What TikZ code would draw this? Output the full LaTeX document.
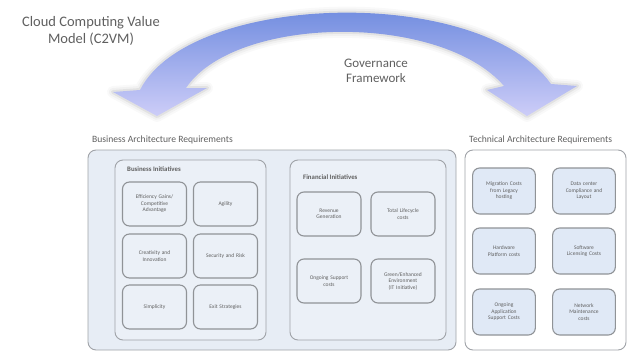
\documentclass[tikz,border=0pt]{standalone}
\usepackage{fontspec}
\setmainfont{Carlito}
\definecolor{panelfill}{RGB}{231,237,245}
\definecolor{groupfill}{RGB}{235,240,247}
\definecolor{techfill}{RGB}{224,233,246}
\definecolor{edgegray}{RGB}{160,163,168}
\definecolor{textgray}{RGB}{95,95,95}
\definecolor{arrowtop}{RGB}{92,126,218}
\definecolor{arrowmid}{RGB}{150,165,235}
\definecolor{arrowbot}{RGB}{205,205,248}
\begin{document}
\begin{tikzpicture}[x=1pt,y=-1pt,
  frame/.style={draw=edgegray, line width=0.9pt, rounded corners=8pt},
  outerbox/.style={frame, fill=panelfill},
  groupbox/.style={frame, fill=groupfill},
  cell/.style={draw=edgegray!90!black, line width=1.1pt, rounded corners=7pt, fill=groupfill,
    minimum width=64pt, minimum height=44pt, align=center, font=\fontsize{5.5}{6.5}\selectfont, text=textgray, text width=56pt},
  techcell/.style={cell, fill=techfill, minimum width=62pt, minimum height=46pt},
  caption/.style={font=\fontsize{9.6}{11}\selectfont, text=textgray, anchor=west, inner sep=0pt},
  grouplabel/.style={caption, font=\fontsize{6.8}{8}\bfseries\selectfont},
  title/.style={font=\fontsize{14.5}{16.5}\selectfont, text=textgray, align=center}
]
\useasboundingbox (0,0) rectangle (634,353);

% curved two-headed arrow with a soft shadow
\def\arrowpath{(113,92) -- (157,116) -- (207,88) -- (186,88)
  .. controls (235,15) and (440,12) .. (504,86)
  -- (487,90) -- (527,116) -- (577,86) -- (551,84)
  .. controls (480,-16) and (190,-8) .. (140,90) -- cycle}
\foreach \w/\o in {12/0.04,8/0.06,4/0.1}{
  \draw[line width=\w pt, gray!80!black, opacity=\o, line join=round] \arrowpath;
}
\shade[top color=arrowtop, middle color=arrowmid, bottom color=arrowbot] \arrowpath;

\node[title] (c2vm) at (91,31) {Cloud Computing Value\\Model (C2VM)};
\node[title, font=\fontsize{13}{15.5}\selectfont] (gov) at (376,71) {Governance\\Framework};

% business architecture
\node[caption] (barlbl) at (92,140) {Business Architecture Requirements};
\draw[outerbox] (88,150) rectangle (456,350);
\draw[groupbox] (115,160) rectangle (266,340);
\node[grouplabel] (bilbl) at (127,169) {Business Initiatives};
\node[cell] (b1) at (154.5,204) {Efficiency Gains/\\Competitive\\Advantage};
\node[cell] (b2) at (225.5,204) {Agility};
\node[cell] (b3) at (154.5,256) {Creativity and\\Innovation};
\node[cell] (b4) at (225.5,256) {Security and Risk};
\node[cell] (b5) at (154.5,307) {Simplicity};
\node[cell] (b6) at (225.5,307) {Exit Strategies};

\draw[groupbox] (290,160) rectangle (446,340);
\node[grouplabel] (filbl) at (303,177) {Financial Initiatives};
\node[cell] (f1) at (329,214) {Revenue\\Generation};
\node[cell] (f2) at (403,214) {Total Lifecycle\\costs};
\node[cell] (f3) at (329,281) {Ongoing Support\\costs};
\node[cell] (f4) at (403,281) {Green/Enhanced\\Environment\\(IT Initiative)};

% technical architecture
\node[caption] (tarlbl) at (469,140) {Technical Architecture Requirements};
\draw[frame, fill=white] (465,150) rectangle (626,350);
\node[techcell] (t1) at (504,191) {Migration Costs\\from Legacy\\hosting};
\node[techcell] (t2) at (584,191) {Data center\\Compliance and\\Layout};
\node[techcell] (t3) at (504,251) {Hardware\\Platform costs};
\node[techcell] (t4) at (584,251) {Software\\Licensing Costs};
\node[techcell] (t5) at (504,312) {Ongoing\\Application\\Support Costs};
\node[techcell] (t6) at (584,312) {Network\\Maintenance\\costs};
\end{tikzpicture}
\end{document}
